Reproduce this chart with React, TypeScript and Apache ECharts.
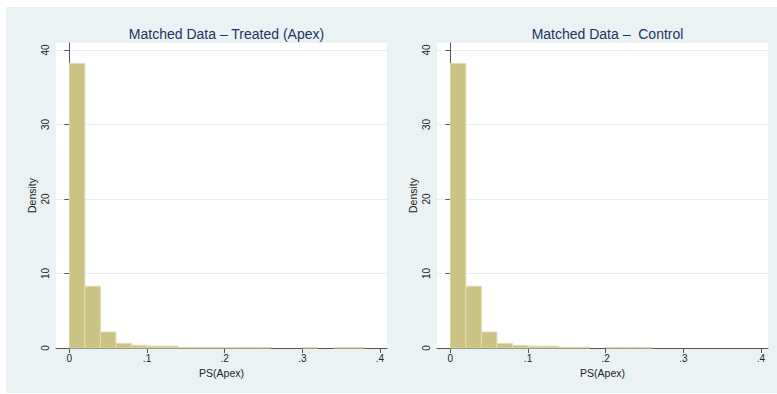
import React, { useEffect, useRef } from "react";
import * as echarts from "echarts";

// Histogram bins (left edges), bin width 0.02
const binLeft = [0, 0.02, 0.04, 0.06, 0.08, 0.1, 0.12, 0.14, 0.16, 0.18, 0.2, 0.22, 0.24, 0.26, 0.28, 0.3, 0.32, 0.34, 0.36, 0.38];
const BIN_WIDTH = 0.02;

const treatedDensity = [38.2, 8.3, 2.15, 0.63, 0.37, 0.26, 0.26, 0.08, 0.07, 0.07, 0.06, 0.06, 0.06, 0, 0, 0.06, 0, 0.06, 0.06, 0];
const controlDensity = [38.2, 8.3, 2.15, 0.6, 0.35, 0.25, 0.25, 0.1, 0.1, 0, 0.06, 0.06, 0.06, 0, 0, 0, 0, 0, 0, 0];

const xTicks = [0, 0.1, 0.2, 0.3, 0.4];
const yTicks = [0, 10, 20, 30, 40];

const titles = ["Matched Data \u2013 Treated (Apex)", "Matched Data \u2013  Control"];
const xName = "PS(Apex)";
const yName = "Density";

const FONT = "'Liberation Sans', Arial, Helvetica, sans-serif";
const BAR_FILL = "#cbc384";
const BAR_STROKE = "#e2dcb2";
const AXIS_COLOR = "#555555";
const GRID_LINE = "#e6eef0";
const BG = "#eaf2f3";
const TITLE_COLOR = "#23325f";

function fmtX(v: number) {
  if (Math.abs(v) < 1e-9) return "0";
  return String(Math.round(v * 10) / 10).replace(/^0\./, ".");
}

export default function App() {
  const ref = useRef<HTMLDivElement>(null);
  useEffect(() => {
    if (!ref.current) return;
    const chart = echarts.init(ref.current, undefined, { renderer: "svg" });

    const grids = [
      { left: 56, top: 43, width: 331, height: 305 },
      { left: 437, top: 43, width: 331, height: 305 },
    ];

    const xAxis = grids.map((_, i) => ({
      type: "value",
      gridIndex: i,
      min: -0.0172,
      max: 0.409,
      name: xName,
      nameLocation: "middle",
      nameGap: 16,
      nameTextStyle: { fontSize: 10.5, color: "#222", fontFamily: FONT },
      axisLine: { show: true, lineStyle: { color: AXIS_COLOR, width: 1 } },
      axisTick: { show: true, length: 5, customValues: xTicks, lineStyle: { color: AXIS_COLOR } },
      axisLabel: {
        customValues: xTicks,
        formatter: (v: number) => fmtX(v),
        fontSize: 10,
        color: "#222",
        fontFamily: FONT,
        margin: 5,
      },
      splitLine: { show: false },
    }));

    const yAxis = grids.map((_, i) => ({
      type: "value",
      gridIndex: i,
      min: 0,
      max: 40.94,
      name: yName,
      nameLocation: "middle",
      nameGap: 19,
      nameTextStyle: { fontSize: 10.5, color: "#222", fontFamily: FONT },
      axisLine: { show: true, lineStyle: { color: AXIS_COLOR, width: 1 } },
      axisTick: { show: true, length: 5, customValues: yTicks, lineStyle: { color: AXIS_COLOR } },
      axisLabel: {
        customValues: yTicks,
        rotate: 90,
        fontSize: 10,
        color: "#222",
        fontFamily: FONT,
        margin: 6,
      },
      splitLine: { show: true, lineStyle: { color: GRID_LINE, width: 1 } },
    }));

    const makeSeries = (vals: number[], idx: number) => ({
      type: "custom",
      xAxisIndex: idx,
      yAxisIndex: idx,
      z: 5,
      encode: { x: [0, 1], y: 2 },
      data: binLeft.map((b, k) => [b, b + BIN_WIDTH, vals[k]]),
      renderItem: (_params: any, api: any) => {
        const x0 = api.value(0);
        const x1 = api.value(1);
        const y = api.value(2);
        if (!y) return null;
        const p0 = api.coord([x0, y]);
        const p1 = api.coord([x1, 0]);
        return {
          type: "rect",
          shape: { x: p0[0], y: p0[1], width: p1[0] - p0[0], height: p1[1] - p0[1] },
          style: { fill: BAR_FILL, stroke: BAR_STROKE, lineWidth: 1 },
        };
      },
    });

    chart.setOption({
      animation: false,
      backgroundColor: "#ffffff",
      textStyle: { fontFamily: FONT },
      graphic: [
        {
          type: "rect",
          z: -10,
          silent: true,
          shape: { x: 6, y: 7, width: 771, height: 386 },
          style: { fill: BG },
        },
      ],
      title: grids.map((g, i) => ({
        text: titles[i],
        left: g.left + g.width / 2,
        top: 22,
        textAlign: "center",
        textStyle: { fontSize: 14, fontWeight: "normal", color: TITLE_COLOR, fontFamily: FONT },
      })),
      grid: grids.map((g) => ({
        ...g,
        show: true,
        backgroundColor: "#ffffff",
        borderWidth: 0,
        containLabel: false,
      })),
      xAxis,
      yAxis,
      series: [makeSeries(treatedDensity, 0), makeSeries(controlDensity, 1)],
    } as any);

    return () => chart.dispose();
  }, []);

  return (
    <div
      ref={ref}
      style={{ width: 777, height: 394, position: "fixed", left: 0, top: 0 }}
    />
  );
}
